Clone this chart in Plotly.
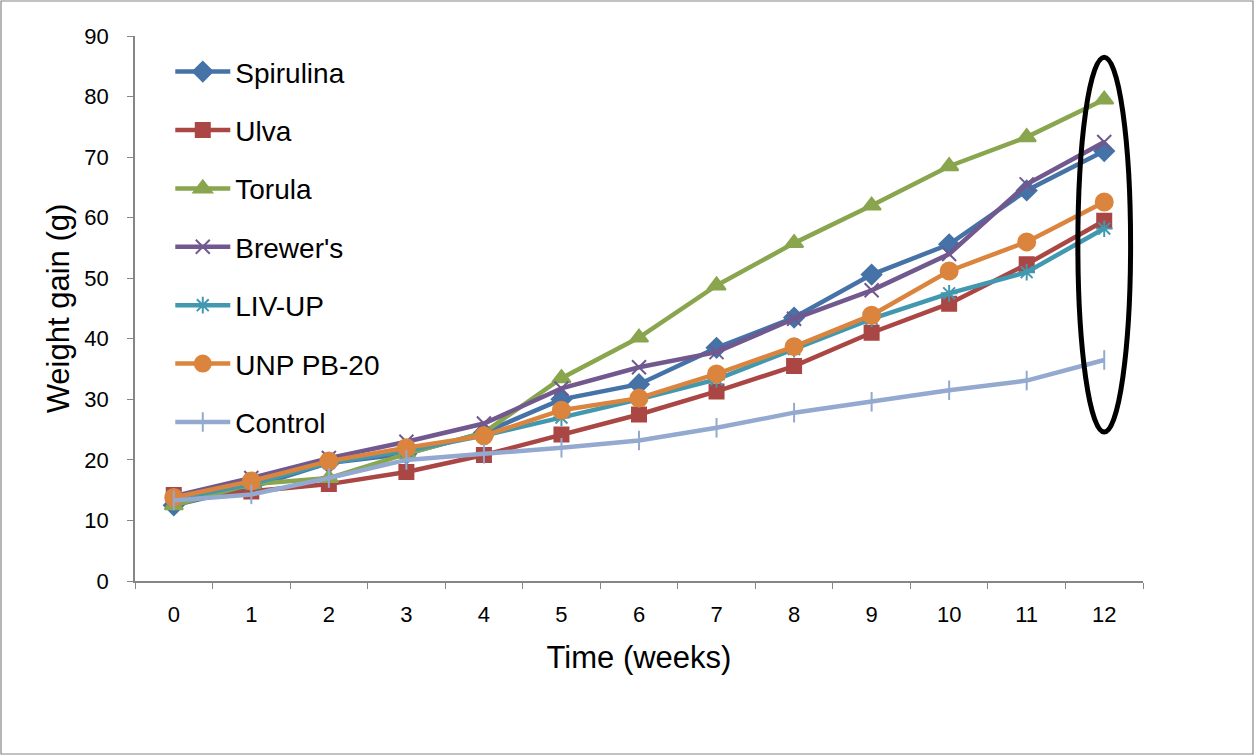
import plotly.graph_objects as go

weeks = [str(i) for i in range(13)]
spirulina = [12.5, 15.5, 19.5, 21.0, 24.5, 30.0, 32.5, 38.5, 43.5, 50.6, 55.6, 64.5, 71.0]
ulva = [14.2, 14.8, 16.0, 18.0, 20.8, 24.2, 27.5, 31.3, 35.5, 41.0, 45.8, 52.3, 59.5]
torula = [12.5, 16.0, 17.0, 21.0, 24.5, 33.5, 40.2, 48.8, 55.8, 62.0, 68.5, 73.3, 79.5]
brewers = [14.0, 17.0, 20.3, 23.0, 26.0, 31.8, 35.3, 37.8, 43.3, 48.0, 54.0, 65.5, 72.5]
livup = [13.5, 16.0, 19.5, 21.5, 24.0, 27.0, 30.0, 33.3, 38.3, 43.3, 47.5, 51.0, 58.2]
unp = [13.8, 16.5, 19.8, 22.0, 24.0, 28.2, 30.2, 34.2, 38.7, 43.9, 51.2, 56.0, 62.6]
control = [13.3, 14.3, 17.0, 20.0, 21.0, 22.0, 23.2, 25.3, 27.8, 29.6, 31.5, 33.1, 36.5]

series = [
    ("Spirulina", spirulina, "#4572A7", "diamond", 15),
    ("Ulva", ulva, "#AA4643", "square", 14),
    ("Torula", torula, "#89A54E", "triangle-up", 16),
    ("Brewer's", brewers, "#71588F", "x-thin-open", 14),
    ("LIV-UP", livup, "#4198AF", "asterisk-open", 14),
    ("UNP PB-20", unp, "#DB843D", "circle", 17),
    ("Control", control, "#93A9CF", "line-ns-open", 14),
]

fig = go.Figure()
for i, (name, vals, col, sym, sz) in enumerate(series):
    fig.add_trace(go.Scatter(
        x=weeks, y=vals, name=name, mode="lines+markers",
        line=dict(color=col, width=4.5),
        marker=dict(symbol=sym, size=sz, color=col, line=dict(color=col, width=2)),
        legendgroup=f"g{i}",
    ))

W, H = 1255, 756
L, R, T, B = 135, 112, 36, 175
pw, ph = W - L - R, H - T - B

fig.update_layout(
    width=W, height=H,
    margin=dict(l=L, r=R, t=T, b=B),
    paper_bgcolor="white", plot_bgcolor="white",
    font=dict(family="Liberation Sans, Arial, sans-serif", color="black"),
    showlegend=True,
    legend=dict(x=0.035, y=0.98, xanchor="left", yanchor="top",
                font=dict(size=28), tracegroupgap=19, itemwidth=55,
                bgcolor="rgba(0,0,0,0)"),
    xaxis=dict(type="category", range=[-0.5, 12.5], showline=True,
               linecolor="#868686", linewidth=1.5, ticks="outside",
               tickson="boundaries", ticklen=6, tickcolor="#868686",
               tickfont=dict(size=22), showgrid=False, ticklabelstandoff=13,
               title=dict(text="Time (weeks)", font=dict(size=31), standoff=20)),
    yaxis=dict(range=[0, 90], dtick=10, showline=True, linecolor="#868686",
               linewidth=1.5, ticks="outside", ticklen=6, tickcolor="#868686",
               tickfont=dict(size=22), showgrid=False, zeroline=False,
               ticklabelstandoff=14,
               title=dict(text="Weight gain (g)", font=dict(size=31), standoff=6)),
)

# ellipse highlighting week 12
fig.add_shape(type="circle", xref="x", yref="y", x0=11.66, x1=12.34, y0=24.6, y1=86.5,
              line=dict(color="black", width=5))

# outer chart border
fig.add_shape(type="rect", xref="paper", yref="paper",
              x0=-(L - 1) / pw, x1=(pw + R - 2) / pw,
              y0=-(B - 2) / ph, y1=(ph + T - 1) / ph,
              line=dict(color="#868686", width=1.2))

fig.write_html("out.html")
